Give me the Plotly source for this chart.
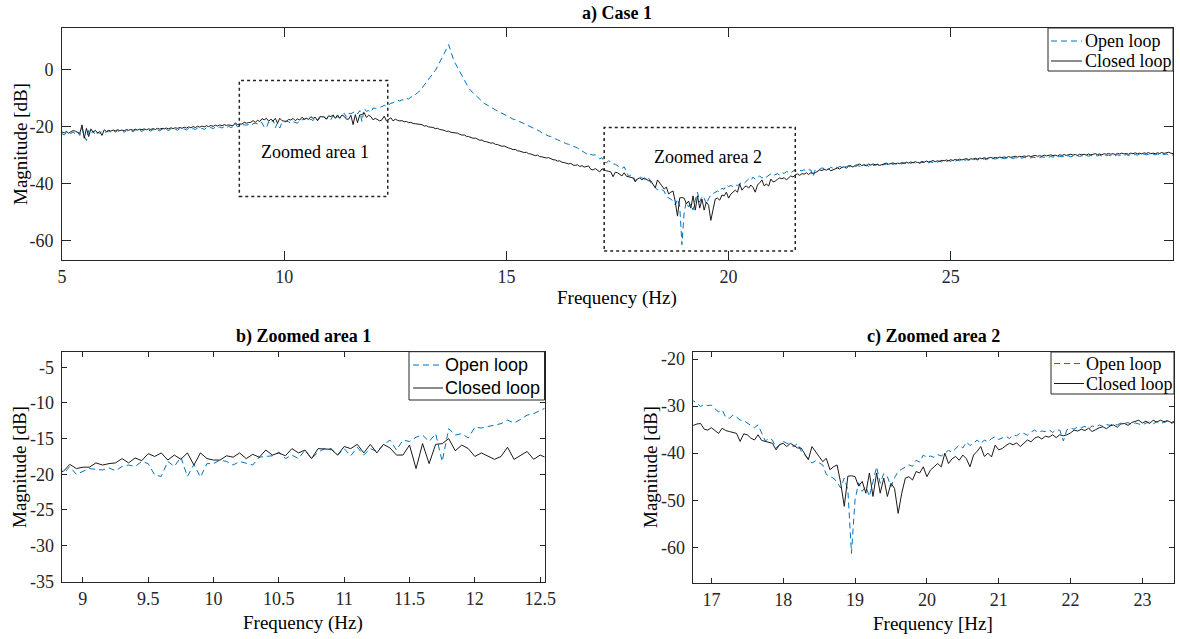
import numpy as np
import plotly.graph_objects as go

# ---------------- data (magnitude in dB, 0.05 Hz grid from 5 to 30 Hz) ----------------
open_a = [-22.4, -22.8, -22.0, -22.6, -22.3, -21.8, -22.4, -21.7, -23.0, -20.5,
          -23.2, -24.8, -21.2, -22.5, -21.4, -22.9, -21.9, -22.3, -21.6, -22.0,
          -21.8, -21.5, -21.9, -21.4, -21.8, -21.3, -21.7, -21.4, -21.9, -21.2,
          -21.6, -21.3, -21.7, -21.1, -21.5, -21.2, -21.6, -21.0, -21.4, -21.1,
          -21.5, -20.9, -21.3, -21.0, -21.4, -20.8, -21.2, -20.9, -21.3, -20.7,
          -21.1, -20.8, -21.2, -20.6, -21.0, -20.7, -21.1, -20.5, -20.9, -20.6,
          -20.9, -20.4, -20.8, -20.5, -20.9, -20.3, -20.7, -20.2, -20.6, -20.1,
          -20.5, -20.0, -20.4, -19.9, -20.3, -19.8, -20.2]
closed_a = [-21.8, -22.1, -21.6, -22.2, -21.7, -21.3, -21.5, -22.0, -22.3, -19.3,
            -24.0, -20.5, -23.4, -20.7, -21.9, -21.2, -22.2, -21.6, -23.0, -21.0,
            -21.6, -21.2, -21.5, -21.1, -21.4, -21.0, -21.3, -21.1, -21.4, -20.9,
            -21.2, -20.9, -21.2, -20.8, -21.1, -20.8, -21.0, -20.7, -21.0, -20.7,
            -20.9, -20.6, -20.9, -20.5, -20.8, -20.5, -20.7, -20.4, -20.7, -20.3,
            -20.6, -20.3, -20.5, -20.2, -20.5, -20.1, -20.4, -20.0, -20.3, -19.9,
            -20.2, -19.8, -20.1, -19.7, -20.0, -19.6, -19.9, -19.5, -19.8, -19.4,
            -19.7, -19.3, -19.6, -19.2, -19.5, -19.3, -19.4]

open_b = [-20.0, -18.9, -20.0, -19.6, -19.2, -19.3, -19.4, -19.1, -19.5, -18.9,
          -18.7, -18.9, -18.2, -18.5, -20.1, -20.3, -18.2, -18.9, -17.6, -20.3,
          -18.6, -20.4, -18.5, -18.5, -18.0, -18.2, -18.7, -18.2, -18.5, -18.7,
          -17.6, -17.5, -17.4, -16.9, -17.8, -17.3, -17.8, -16.6, -17.8, -16.9,
          -16.4, -16.4, -17.3, -16.4, -17.4, -16.2, -17.3, -16.4, -16.8, -15.9,
          -15.2, -16.6, -15.2, -15.4, -14.8, -14.5, -15.4, -14.3, -18.2, -13.6,
          -14.5, -14.3, -14.9, -13.4, -13.5, -13.3, -13.1, -12.9, -12.4, -12.8,
          -12.3, -11.7, -11.5, -11.0]
closed_b = [-19.6, -18.6, -19.2, -19.0, -19.0, -18.4, -18.7, -18.5, -18.4, -17.8,
            -18.4, -17.7, -18.1, -17.1, -17.5, -17.0, -18.0, -17.3, -17.9, -17.0,
            -18.7, -17.0, -17.8, -18.0, -18.0, -17.4, -17.6, -17.0, -17.8, -17.2,
            -17.6, -16.6, -17.3, -17.0, -17.4, -16.4, -17.0, -16.6, -17.8, -16.4,
            -16.4, -16.5, -17.3, -16.1, -16.4, -15.8, -17.0, -15.8, -17.0, -15.8,
            -16.3, -17.3, -17.3, -15.9, -19.2, -15.7, -18.5, -15.8, -15.7, -15.0,
            -16.7, -15.9, -16.4, -17.5, -17.0, -17.5, -17.9, -17.5, -16.2, -17.9,
            -17.3, -16.8, -17.9, -17.3]

open_c = [-10.6, -10.9, -10.5, -10.6, -10.0, -10.2, -9.5, -9.4, -8.6, -8.0,
          -7.4, -6.4, -5.6, -4.6, -3.5, -2.5, -1.4, -0.2, 1.2, 2.6,
          4.0, 5.6, 7.3, 8.9, 6.4, 4.1, 2.3, 0.8, -0.6, -2.0,
          -3.5, -5.3, -6.3, -7.3, -8.1, -8.9, -9.6, -10.4, -11.0, -11.7,
          -12.2, -12.8, -13.1, -13.7, -14.0, -14.4, -14.9, -15.3, -15.6, -16.0,
          -16.5, -16.8, -17.3, -17.4, -17.9, -18.2, -18.5, -18.9, -19.1, -19.5,
          -20.0, -20.4, -20.6, -21.2, -21.5, -22.1, -22.5, -22.7, -23.2, -23.4,
          -23.9, -24.2, -24.5, -24.9, -25.3, -25.5, -25.9, -26.1, -26.4, -26.9,
          -27.1, -27.4, -27.9, -28.3, -28.9]
closed_c = [-17.7, -17.9, -17.8, -18.2, -18.1, -18.5, -18.4, -18.8, -18.9, -19.0,
            -19.3, -19.2, -19.7, -19.6, -20.0, -20.1, -20.2, -20.6, -20.5, -20.9,
            -21.0, -21.2, -21.6, -21.5, -21.9, -22.0, -22.3, -22.2, -22.6, -22.9,
            -22.8, -23.3, -23.4, -23.6, -24.0, -23.9, -24.4, -24.7, -24.6, -25.1,
            -25.2, -25.5, -25.7, -25.6, -26.1, -26.2, -26.5, -26.8, -26.7, -27.2,
            -27.4, -27.6, -28.0, -27.9, -28.4, -28.5, -28.8, -29.0, -28.9, -29.4,
            -29.5, -29.8, -30.1, -29.9, -30.4, -30.5, -30.7, -30.9, -30.8, -31.3,
            -31.5, -31.6, -32.0, -31.9, -32.4, -32.5, -32.8, -33.0, -32.8, -33.4,
            -33.5, -33.3, -33.9, -33.6, -34.1]

open_d = [-29.4, -30.1, -29.6, -29.9, -29.8, -30.6, -31.2, -30.8, -32.4, -32.6,
          -31.9, -32.3, -33.0, -33.1, -33.6, -34.2, -34.6, -34.0, -35.8, -37.4,
          -36.9, -37.2, -38.9, -38.2, -37.5, -37.9, -38.2, -38.6, -37.9, -39.6,
          -40.4, -41.2, -42.1, -41.6, -42.1, -42.5, -44.5, -45.0, -45.3, -46.2,
          -47.4, -45.3, -47.8, -61.3, -49.9, -46.3, -48.1, -47.1, -49.2, -45.7,
          -42.9, -46.4, -44.3, -45.0, -47.1, -45.2, -43.9, -43.4, -42.9, -42.5,
          -42.8, -41.5, -41.9, -40.4, -40.9, -40.6, -40.9, -40.3, -40.6, -40.0,
          -39.4, -39.8, -39.0, -38.3, -38.9, -37.6, -38.4, -37.9, -37.2, -38.0,
          -37.2, -37.6, -36.9, -36.5, -37.1, -36.8, -36.4, -36.9, -36.1, -36.3,
          -35.7, -35.8, -36.2, -35.5, -35.1, -35.6, -35.3, -35.4, -35.0, -35.6,
          -35.1, -35.1, -37.4, -35.0, -34.7, -34.9, -34.4, -34.6, -34.3, -34.9,
          -34.2, -34.5, -34.0, -34.3, -33.9, -34.1, -33.7, -34.0, -33.6, -33.7,
          -33.5, -33.9, -33.6, -33.8, -34.0, -33.6, -33.4, -33.8, -33.3, -33.6,
          -33.5, -33.2, -33.7, -33.4]
closed_d = [-33.8, -33.7, -34.9, -35.1, -34.6, -35.3, -35.8, -34.7, -35.2, -35.4,
            -35.6, -35.8, -37.5, -35.9, -36.1, -36.8, -37.2, -36.1, -37.3, -37.5,
            -37.6, -37.9, -39.3, -38.2, -37.9, -38.6, -37.9, -38.4, -38.9, -38.9,
            -40.1, -41.4, -38.6, -39.6, -40.8, -41.8, -41.1, -43.5, -42.9, -42.5,
            -46.3, -51.3, -44.9, -44.8, -45.0, -47.0, -46.0, -48.5, -44.2, -49.2,
            -44.2, -48.5, -45.3, -49.2, -46.4, -47.5, -52.8, -48.5, -45.3, -45.0,
            -45.7, -43.9, -44.2, -42.9, -45.0, -43.6, -42.9, -42.2, -42.9, -40.0,
            -42.2, -41.2, -40.7, -41.5, -40.4, -41.2, -42.9, -40.4, -39.6, -38.6,
            -40.7, -40.0, -40.8, -38.3, -39.3, -39.0, -38.4, -37.9, -38.2, -37.8,
            -38.6, -38.0, -37.2, -37.6, -36.8, -36.5, -37.0, -36.4, -36.6, -36.1,
            -36.7, -36.1, -36.3, -36.1, -35.7, -35.1, -35.3, -34.9, -35.2, -34.7,
            -35.4, -35.0, -34.6, -34.4, -34.8, -34.2, -34.0, -34.5, -33.8, -33.7,
            -34.1, -33.5, -33.3, -33.0, -33.6, -33.2, -33.7, -33.0, -33.4, -33.0,
            -33.3, -33.1, -33.5, -33.2]

open_e = [-33.3, -33.0, -33.4, -32.9, -33.2, -32.8, -33.1, -32.7, -33.0, -32.6,
          -32.9, -32.5, -32.8, -32.4, -32.7, -32.3, -32.8, -32.4, -32.6, -32.2,
          -32.6, -32.3, -32.5, -32.1, -32.4, -32.0, -32.3, -31.9, -32.2, -31.8,
          -32.1, -31.7, -32.0, -31.6, -31.9, -31.5, -31.8, -31.5, -31.7, -31.4,
          -31.7, -31.3, -31.6, -31.3, -31.5, -31.2, -31.5, -31.1, -31.4, -31.1,
          -31.3, -31.0, -31.3, -30.9, -31.2, -30.9, -31.1, -30.8, -31.1, -30.8,
          -31.0, -30.7, -31.0, -30.7, -30.9, -30.6, -30.9, -30.6, -30.8, -30.5,
          -30.8, -30.5, -30.7, -30.4, -30.7, -30.4, -30.6, -30.3, -30.6, -30.3,
          -30.5, -30.3, -30.5, -30.2, -30.5, -30.2, -30.4, -30.1, -30.4, -30.1,
          -30.3, -30.0, -30.3, -30.0, -30.2, -30.0, -30.2, -29.9, -30.2, -29.9,
          -30.1, -29.9, -30.1, -29.8, -30.1, -29.8, -30.0, -29.8, -30.0, -29.7,
          -30.0, -29.7, -29.9, -29.7, -29.9, -29.6, -29.9, -29.6, -29.8, -29.6,
          -29.8, -29.6, -29.8, -29.5, -29.8, -29.5, -29.7, -29.5, -29.8, -29.6,
          -30.0]
closed_e = [-33.0, -32.7, -33.1, -32.8, -32.6, -33.0, -32.7, -32.9, -32.5, -32.8,
            -32.4, -32.7, -32.3, -32.6, -32.2, -32.5, -32.6, -32.1, -32.4, -32.0,
            -32.3, -32.1, -31.8, -32.2, -31.9, -32.1, -31.7, -31.9, -31.6, -31.9,
            -31.5, -31.8, -31.4, -31.7, -31.3, -31.6, -31.4, -31.1, -31.5, -31.2,
            -31.3, -31.0, -31.3, -30.9, -31.2, -30.8, -31.1, -30.9, -30.7, -31.0,
            -30.7, -30.9, -30.6, -30.8, -30.5, -30.8, -30.4, -30.7, -30.5, -30.3,
            -30.6, -30.3, -30.5, -30.2, -30.4, -30.1, -30.4, -30.2, -30.0, -30.3,
            -30.1, -30.3, -29.9, -30.2, -30.0, -29.8, -30.1, -29.9, -30.2, -29.8,
            -30.0, -29.7, -30.0, -29.8, -29.6, -29.9, -29.7, -30.0, -29.6, -29.8,
            -29.6, -29.9, -29.5, -29.8, -29.6, -29.4, -29.7, -29.5, -29.8, -29.4,
            -29.6, -29.3, -29.6, -29.4, -29.7, -29.3, -29.5, -29.2, -29.5, -29.3,
            -29.6, -29.2, -29.4, -29.1, -29.4, -29.2, -29.5, -29.1, -29.3, -29.0,
            -29.4, -29.2, -29.4, -29.1, -29.3, -29.0, -29.3, -29.1, -28.9, -29.2,
            -29.4]

open_loop_db = open_a + open_b + open_c + open_d + open_e
closed_loop_db = closed_a + closed_b + closed_c + closed_d + closed_e
freq_hz = np.round(np.arange(5.0, 30.0 + 1e-9, 0.05), 2)[:len(open_loop_db)]

series_names = ["Open loop", "Closed loop"]

# tick labels
top_xticks = [5, 10, 15, 20, 25]
top_yticks = [0, -20, -40, -60]
b_xticks = [9, 9.5, 10, 10.5, 11, 11.5, 12, 12.5]
b_yticks = [-5, -10, -15, -20, -25, -30, -35]
c_xticks = [17, 18, 19, 20, 21, 22, 23]
c_yticks = [-20, -30, -40, -50, -60]

# zoom boxes drawn on the overview (Hz, dB)
zoom1_box = [8.99, 12.33, -44.4, -3.75]
zoom2_box = [17.2, 21.5, -63.5, -20.2]

# ---------------- figure ----------------
W, H = 1180, 639
def PX(x): return x / W
def PY(y): return 1 - y / H

BLUE = "#0072BD"
DARK = "#1a1a1a"
AX = "#262626"
SERIF = "Liberation Serif"
SANS = "Liberation Sans"
DASH = "6px,4px"

fig = go.Figure()
styles = [(open_loop_db, BLUE, DASH), (closed_loop_db, DARK, "solid")]
panels = [("x", "y"), ("x2", "y2"), ("x3", "y3")]
for xa, ya in panels:
    for name, (yv, col, dash) in zip(series_names, styles):
        fig.add_trace(go.Scatter(x=freq_hz, y=yv, mode="lines", name=name,
                                 line=dict(color=col, width=1, dash=dash),
                                 xaxis=xa, yaxis=ya, showlegend=False))

def axis(domain, rng, ticks, anchor, ticklen, standoff):
    return dict(domain=domain, range=rng, anchor=anchor, tickmode="array",
                tickvals=ticks, ticktext=[("%g" % t) for t in ticks],
                showline=True, linecolor=AX, linewidth=1, mirror="allticks",
                ticks="inside", ticklen=ticklen, tickwidth=1, tickcolor=AX,
                showgrid=False, zeroline=False, ticklabelstandoff=standoff,
                automargin=False,
                tickfont=dict(family=SERIF, size=18, color=AX))

fig.update_layout(
    template="none",
    width=W, height=H, margin=dict(l=0, r=0, t=0, b=0, pad=0, autoexpand=False),
    paper_bgcolor="white", plot_bgcolor="white", showlegend=False,
    xaxis=axis([PX(62), PX(1173)], [5, 30], top_xticks, "y", 9, 0),
    yaxis=axis([PY(260), PY(28)], [-66.7, 14.7], top_yticks, "x", 9, 4),
    xaxis2=axis([PX(61.7), PX(544.5)], [8.838, 12.533], b_xticks, "y2", 5, 0),
    yaxis2=axis([PY(582.3), PY(351.7)], [-35.14, -2.81], b_yticks, "x2", 5, 3),
    xaxis3=axis([PX(692.7), PX(1174)], [16.74, 23.44], c_xticks, "y3", 5, 0),
    yaxis3=axis([PY(583), PY(352)], [-67.58, -18.51], c_yticks, "x3", 5, 3),
)

# zoom boxes
for x0, x1, y0, y1 in [zoom1_box, zoom2_box]:
    fig.add_shape(type="rect", xref="x", yref="y", x0=x0, x1=x1, y0=y0, y1=y1,
                  line=dict(color="#222222", width=1.5, dash="dot"))

def ann(text, x, y, size, angle=0, bold=False, xref="paper", yref="paper",
        xanchor="center", family=SERIF):
    fig.add_annotation(text=("<b>%s</b>" % text) if bold else text,
                       x=x, y=y, xref=xref, yref=yref, showarrow=False,
                       xanchor=xanchor, yanchor="middle", textangle=angle,
                       font=dict(family=family, size=size, color="black"))

# legend boxes (box in px: left, right, top, bottom; row centres; sample x-range; text x)
def legend_box(left, right, top, bottom, rows, sx0, sx1, tx, family):
    fig.add_shape(type="rect", xref="paper", yref="paper",
                  x0=PX(left), x1=PX(right), y0=PY(bottom), y1=PY(top),
                  fillcolor="white", line=dict(color=AX, width=1), layer="above")
    for (name, (_, col, dash)), ry in zip(zip(series_names, styles), rows):
        fig.add_shape(type="line", xref="paper", yref="paper",
                      x0=PX(sx0), x1=PX(sx1), y0=PY(ry), y1=PY(ry),
                      line=dict(color=col, width=1, dash=dash), layer="above")
        ann(name, PX(tx), PY(ry), 18, xanchor="left", family=family)

legend_box(1048, 1173, 28, 71, [41, 61], 1051, 1082, 1083, SERIF)
legend_box(409, 544.5, 351.7, 400, [365, 388], 413, 443, 443, SANS)
legend_box(1051, 1174, 352, 394, [363.5, 383.5], 1054, 1084, 1084, SERIF)

ann("Zoomed area 1", 10.69, -28.9, 18, xref="x", yref="y")
ann("Zoomed area 2", 19.54, -30.7, 18, xref="x", yref="y")

ann("a) Case 1", PX(617), PY(14), 18, bold=True)
ann("b) Zoomed area 1", PX(303), PY(336), 18, bold=True)
ann("c) Zoomed area 2", PX(933), PY(336), 18, bold=True)

ann("Frequency (Hz)", PX(617), PY(298), 19)
ann("Magnitude [dB]", PX(20), PY(144), 19, angle=-90)
ann("Frequency (Hz)", PX(303), PY(623), 19)
ann("Magnitude [dB]", PX(19), PY(467), 19, angle=-90)
ann("Frequency [Hz]", PX(933), PY(623), 19)
ann("Magnitude [dB]", PX(650), PY(467), 19, angle=-90)

fig.write_html("out.html")
